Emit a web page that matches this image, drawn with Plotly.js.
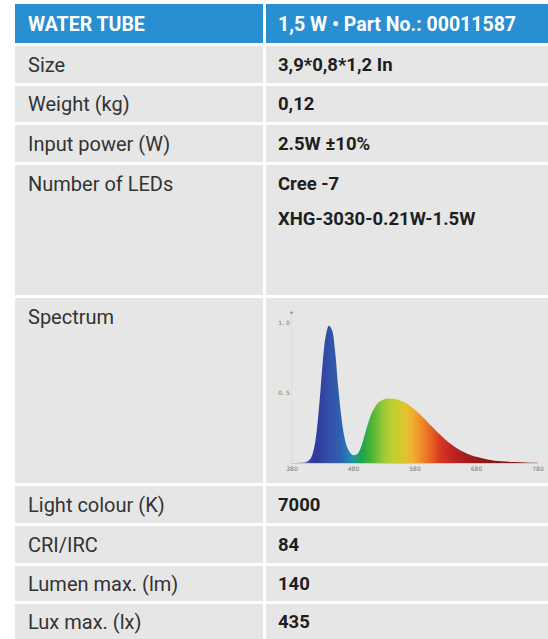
<!DOCTYPE html>
<html><head><meta charset="utf-8">
<script src="https://cdn.plot.ly/plotly-3.0.1.min.js"></script>
<style>html,body{margin:0;padding:0;background:#fff}#chart{width:548px;height:639px}</style>
</head><body><div id="chart"></div>
<script>
// ---- data ----
const headerTexts = ['WATER TUBE', '1,5 W \u2022 Part No.: 00011587'];
const rowLabels = ['Size','Weight (kg)','Input power (W)','Number of LEDs','Spectrum','Light colour (K)','CRI/IRC','Lumen max. (lm)','Lux max. (lx)'];
const rowValues = [['3,9*0,8*1,2 In'],['0,12'],['2.5W \u00b110%'],['Cree -7','XHG-3030-0.21W-1.5W'],[],['7000'],['84'],['140'],['435']];
const spectrumWavelength = [380,390,400,405,410,415,420,425,430,435,440,445,450,455,460,465,470,475,480,485,490,495,500,505,510,515,520,530,540,550,560,570,580,590,600,610,620,630,640,650,660,670,680,700,720,740,760,780];
const spectrumIntensity = [0,0.002,0.006,0.012,0.03,0.09,0.22,0.45,0.72,0.91,0.98,0.95,0.80,0.55,0.34,0.19,0.11,0.07,0.055,0.06,0.09,0.15,0.23,0.30,0.36,0.40,0.43,0.455,0.46,0.455,0.44,0.415,0.38,0.34,0.295,0.25,0.205,0.165,0.13,0.10,0.077,0.058,0.044,0.024,0.013,0.007,0.003,0.001];
const xTickVals = [380,480,580,680,780];
const xTickText = ['380','480','580','680','780'];
const yTickVals = [0.5,1.0];
const yTickText = ['0. 5','1. 0'];

// ---- layout constants ----
const W = 548, H = 639;
const rowHeights = [37,36,37,130,185,37,37,35,35];
const headerTop = 4, headerH = 39, gap = 3;
const colL = [15, 263], colR = [266, 548];
const fontFam = 'Roboto, "Liberation Sans", sans-serif';
const px = x => x / W, py = y => 1 - y / H;

const shapes = [], annotations = [];
function cell(x0, x1, y0, y1, color) {
  shapes.push({type:'rect', xref:'paper', yref:'paper', layer:'below',
    x0:px(x0), x1:px(x1), y0:py(y1), y1:py(y0), fillcolor:color, line:{width:0}});
}
function txt(x, y, t, opts) {
  annotations.push(Object.assign({xref:'paper', yref:'paper', x:px(x), y:py(y), text:t,
    showarrow:false, xanchor:'left', yanchor:'middle'}, opts));
}
// header
const hb = '#2a8fd0';
cell(colL[0], colL[1], headerTop, headerTop+headerH, hb);
cell(colR[0], colR[1], headerTop, headerTop+headerH, hb);
txt(26, headerTop+headerH/2+1, '<b>'+headerTexts[0]+'</b>', {font:{family:fontFam, size:19.5, color:'#fff'}});
txt(276, headerTop+headerH/2+1, '<b>'+headerTexts[1]+'</b>', {font:{family:fontFam, size:19.5, color:'#fff'}});
let y = headerTop + headerH + gap;
rowLabels.forEach((lab, i) => {
  const h = rowHeights[i];
  cell(colL[0], colL[1], y, y+h, '#e6e6e6');
  cell(colR[0], colR[1], y, y+h, '#e6e6e6');
  const cy = h > 60 ? y + 19 : y + h/2;
  txt(26, cy, lab, {font:{family:fontFam, size:20, color:'#333'}});
  rowValues[i].forEach((v, j) => {
    txt(276, cy + j*35, '<b>'+v+'</b>', {font:{family:fontFam, size:18.5, color:'#1e1e1e'}});
  });
  y += h + gap;
});
// small mark above the y axis
annotations.push({xref:'paper', yref:'paper', x:px(291), y:py(314), text:'*', showarrow:false,
  font:{family:fontFam, size:7, color:'#777'}});

const trace = {
  x: spectrumWavelength, y: spectrumIntensity, type:'scatter', mode:'lines',
  line:{width:0, shape:'spline'}, fill:'tozeroy',
  fillgradient:{type:'horizontal', start:380, stop:780, colorscale:[
    [0.000,'#c4c4dc'],[0.050,'#8a86c4'],[0.075,'#3c3aa0'],[0.100,'#2e3a9c'],
    [0.150,'#3450a8'],[0.200,'#2f62b0'],[0.225,'#2a7ab8'],[0.250,'#1a98a0'],
    [0.270,'#1aa060'],[0.290,'#22a848'],[0.325,'#50b438'],[0.370,'#98c838'],
    [0.410,'#c0d030'],[0.460,'#e0c430'],[0.490,'#f0b030'],[0.525,'#f08c28'],
    [0.565,'#e86424'],[0.600,'#d83a20'],[0.650,'#c02420'],[0.720,'#a01c1c'],
    [0.800,'#8c1818'],[1.000,'#7a1414']]},
  hoverinfo:'skip', showlegend:false
};

const layout = {
  width:W, height:H, margin:{l:0,r:0,t:0,b:0},
  paper_bgcolor:'#fff', plot_bgcolor:'rgba(0,0,0,0)',
  showlegend:false,
  xaxis:{domain:[px(292), px(538)], range:[380,780], tickvals:xTickVals, ticktext:xTickText,
    showgrid:false, zeroline:false, showline:true, linecolor:'#c8c8dc', linewidth:1, ticks:'',
    tickfont:{family:'DejaVu Sans', size:6, color:'#777'}, fixedrange:true},
  yaxis:{domain:[(H-463)/H, (H-309)/H], range:[0,1.1], tickvals:yTickVals, ticktext:yTickText,
    showgrid:false, zeroline:false, showline:true, linecolor:'#dcdcdc', linewidth:1, ticks:'',
    tickfont:{family:'DejaVu Sans', size:6, color:'#777'}, fixedrange:true},
  shapes, annotations
};
Plotly.newPlot('chart', [trace], layout, {displayModeBar:false, staticPlot:true});
</script></body></html>
